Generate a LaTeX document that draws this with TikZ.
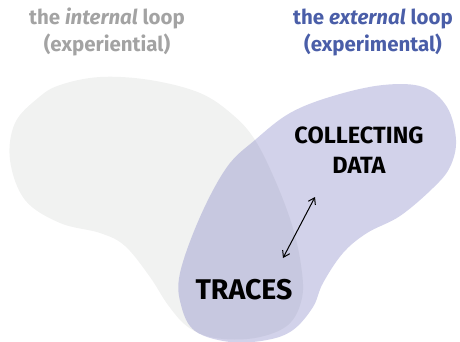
\documentclass[tikz,border=0pt]{standalone}
\usepackage{fontspec}
\setmainfont{Fira Sans}
\usetikzlibrary{arrows.meta}
\definecolor{grayblob}{HTML}{F1F2F1}
\definecolor{purpleblob}{HTML}{6969B9}
\definecolor{graytext}{HTML}{A3A3A3}
\definecolor{bluetext}{HTML}{4A5EA8}
\tikzset{
  heading/.style={align=center, inner sep=0pt, font=\bfseries\fontsize{20.5}{27}\selectfont},
  label/.style={align=center, inner sep=0pt, text=black},
  link/.style={{Straight Barb[length=6pt,width=8pt]}-{Straight Barb[length=6pt,width=8pt]}, line width=1pt, black}
}
\begin{document}
\begin{tikzpicture}[x=1pt,y=-1pt]
\useasboundingbox (0,0) rectangle (460,342);
% internal loop blob
\fill[grayblob] plot[smooth cycle, tension=0.6] coordinates {
 (100,77) (150,80) (200,93) (233,115) (255,140) (275,180) (292,225) (301,265) (302,298)
 (288,325) (255,338) (215,338) (188,327) (168,305) (150,277) (125,246) (100,233) (60,223)
 (25,200) (10,160) (15,123) (38,98) (60,85)};
% external loop blob
\fill[purpleblob, fill opacity=0.3] plot[smooth cycle, tension=0.6] coordinates {
 (383,85) (423,87) (447,107) (456,140) (450,167) (433,188) (400,216) (367,233) (343,253)
 (323,283) (313,307) (293,330) (267,340) (230,342) (195,331) (181,305) (180,273)
 (200,217) (227,167) (255,140) (290,113) (333,96)};
\node[heading, text=graytext] (internal) at (107,32) {the \textit{internal} loop\\(experiential)};
\node[heading, text=bluetext] (external) at (373,32) {the \textit{external} loop\\(experimental)};
\node[label, font=\bfseries\fontsize{23.5}{30}\selectfont] (collect) at (359,150) {COLLECTING\\DATA};
\node[label, font=\bfseries\fontsize{28.5}{30}\selectfont] (traces) at (244,290) {TRACES};
\coordinate (ca) at (315,197);
\coordinate (tb) at (283,258);
\draw[link] (tb) -- (ca);
\end{tikzpicture}
\end{document}
